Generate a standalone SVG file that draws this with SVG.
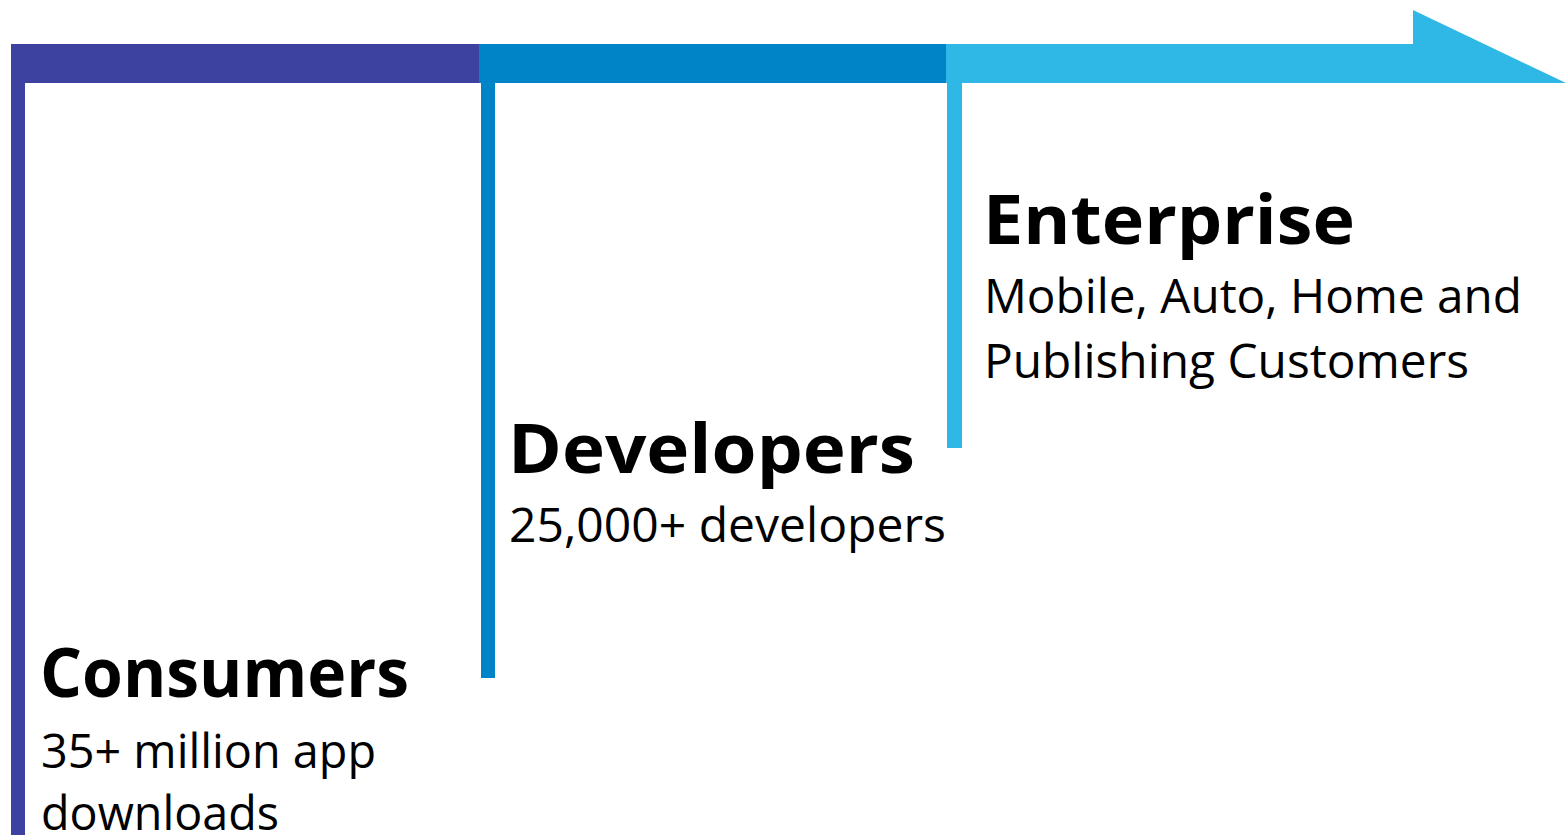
<svg xmlns="http://www.w3.org/2000/svg" width="1567" height="835" viewBox="0 0 1567 835">
<style>
.h{font-family:"Open Sans","Liberation Sans",sans-serif;font-weight:700;font-size:68px;fill:#000}
.s{font-family:"Open Sans","Liberation Sans",sans-serif;font-weight:400;font-size:47px;fill:#000}
</style>
<rect width="1567" height="835" fill="#fff"/>
<g id="timeline">
<rect x="11" y="44" width="469" height="39" fill="#3d42a1"/>
<rect x="11" y="44" width="14" height="791" fill="#3d42a1"/>
<rect x="479" y="44" width="467" height="39" fill="#0084c8"/>
<rect x="481" y="44" width="14" height="634" fill="#0084c8"/>
<polygon points="946,44 1413,44 1413,10 1566,83 946,83" fill="#2fb8e6"/>
<rect x="947" y="44" width="15" height="404" fill="#2fb8e6"/>
</g>
<g id="consumers">
<text class="h" x="40" y="697" textLength="369" lengthAdjust="spacingAndGlyphs">Consumers</text>
<text class="s" x="41" y="768" textLength="335" lengthAdjust="spacingAndGlyphs">35+ million app</text>
<text class="s" x="41" y="830" textLength="238" lengthAdjust="spacingAndGlyphs">downloads</text>
</g>
<g id="developers">
<text class="h" x="508" y="473" textLength="407" lengthAdjust="spacingAndGlyphs">Developers</text>
<text class="s" x="509" y="542" textLength="437" lengthAdjust="spacingAndGlyphs">25,000+ developers</text>
</g>
<g id="enterprise">
<text class="h" x="983" y="244" textLength="372" lengthAdjust="spacingAndGlyphs">Enterprise</text>
<text class="s" x="984" y="313" textLength="538" lengthAdjust="spacingAndGlyphs">Mobile, Auto, Home and</text>
<text class="s" x="984" y="378" textLength="485" lengthAdjust="spacingAndGlyphs">Publishing Customers</text>
</g>
</svg>
